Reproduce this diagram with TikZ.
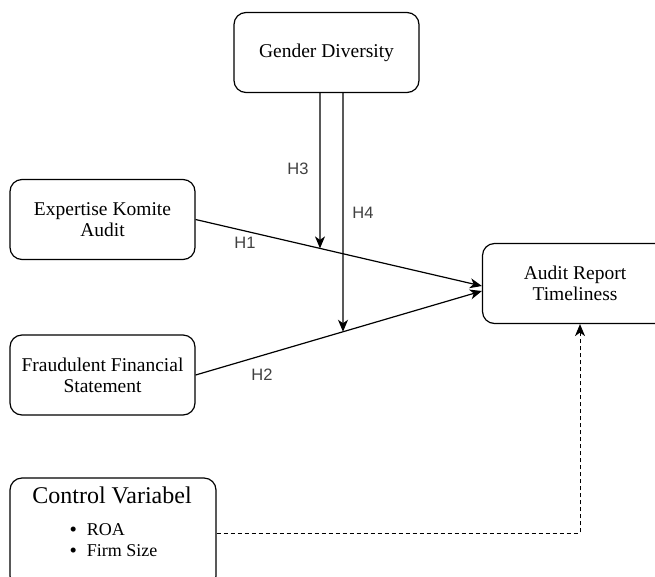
\documentclass[tikz,border=0pt]{standalone}
\usepackage{fontspec}
\setmainfont{Liberation Serif}
\newfontfamily\hsans{Liberation Sans}
\usetikzlibrary{arrows.meta, positioning}

\tikzset{
  varbox/.style={draw, rounded corners=12pt, line width=1.2pt, minimum width=185pt, minimum height=80pt,
    align=center, inner sep=2pt, font=\fontsize{19.5}{21}\selectfont},
  hyp/.style={font=\hsans\fontsize{16.5}{18}\selectfont, text=black!75},
  item/.style={font=\fontsize{18}{19}\selectfont, anchor=west, inner sep=0pt}
}
\newcommand{\bigdot}{\raisebox{-1.5pt}{\fontsize{21}{18}\selectfont\textbullet}}

\begin{document}
\begin{tikzpicture}[x=1pt, y=-1pt, >={Stealth[length=12pt, width=10pt, inset=3.5pt]}, line width=1.2pt]
  \clip (0,0) rectangle (655,576);
  % Variabel
  \node[varbox] (gender) at (326.5,52.5) {Gender Diversity};
  \node[varbox] (expertise) at (102.5,219.5) {Expertise Komite\\Audit};
  \node[varbox] (fraud) at (102.5,375) {Fraudulent Financial\\Statement};
  \node[varbox] (timeliness) at (575,283.5) {Audit Report\\Timeliness};

  % Kontrol
  \node[varbox, minimum width=206pt, minimum height=110pt] (control) at (113,533) {};
  \node[font=\fontsize{24}{26}\selectfont, inner sep=0pt] (ctitle) at (112,495) {Control Variabel};
  \node[item] (roa) at (69,530) {\bigdot\hspace{10pt}ROA};
  \node[item] (size) at (69,551) {\bigdot\hspace{10pt}Firm Size};

  % Hipotesis
  \coordinate (h1end) at ([yshift=-2.5pt]timeliness.west);
  \coordinate (h2end) at ([yshift=-7.5pt]timeliness.west);
  \coordinate (h3start) at ([xshift=-6.5pt]gender.south);
  \coordinate (h4start) at ([xshift=16.5pt]gender.south);
  \coordinate (h3low) at ([yshift=-300pt]h3start);
  \coordinate (h4low) at ([yshift=-300pt]h4start);
  \draw[->] (expertise.east) -- (h1end);
  \draw[->] (fraud.east) -- (h2end);
  \draw[->] (h3start) -- (intersection of h3start--h3low and expertise.east--h1end);
  \draw[->] (h4start) -- (intersection of h4start--h4low and fraud.east--h2end);
  \draw[->, dashed, line width=1pt, dash pattern=on 4pt off 3pt] (control.east) -| ([xshift=5pt]timeliness.south);

  \node[hyp] (lh1) at (245,243) {H1};
  \node[hyp] (lh2) at (262,375) {H2};
  \node[hyp] (lh3) at (298,169) {H3};
  \node[hyp] (lh4) at (363,213) {H4};
\end{tikzpicture}
\end{document}
